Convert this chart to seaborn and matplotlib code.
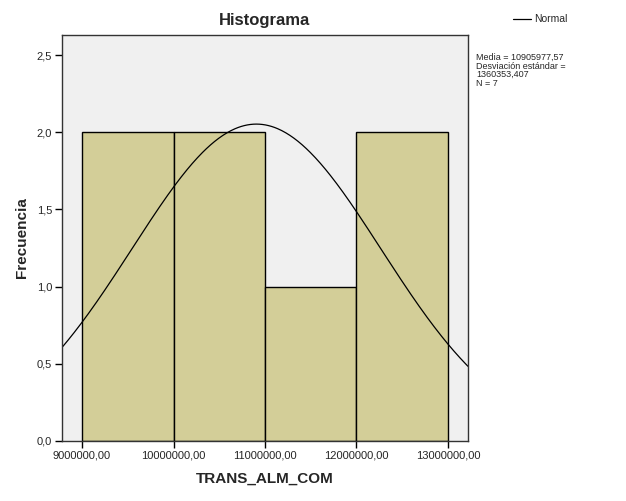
import numpy as np
import pandas as pd
import matplotlib
matplotlib.use("Agg")
import matplotlib.pyplot as plt
import seaborn as sns

bin_edges = [9000000, 10000000, 11000000, 12000000, 13000000]
bin_centers = [9500000, 10500000, 11500000, 12500000]
counts = [2, 2, 1, 2]
mean_val = 10905977.57
sd_val = 1360353.407
n_val = 7
xticks = [9000000, 10000000, 11000000, 12000000, 13000000]
xtick_labels = ["9000000,00", "10000000,00", "11000000,00", "12000000,00", "13000000,00"]
yticks = [0.0, 0.5, 1.0, 1.5, 2.0, 2.5]
ytick_labels = ["0,0", "0,5", "1,0", "1,5", "2,0", "2,5"]

sns.set_style("ticks")
plt.rcParams['font.family'] = ['Liberation Sans', 'DejaVu Sans']

W, H = 626, 501
fig = plt.figure(figsize=(W / 100, H / 100), dpi=100)
left, right, top, bottom = 62, 468, 35, 441
ax = fig.add_axes([left / W, 1 - bottom / H, (right - left) / W, (bottom - top) / H])
ax.set_facecolor("#F0F0F0")

df = pd.DataFrame({"x": bin_centers, "w": counts})
sns.histplot(data=df, x="x", weights="w", bins=bin_edges, ax=ax,
             color="#D3CE98", alpha=1, edgecolor="black", linewidth=1.0)

xmin, xmax = 8781000, 13219000
xs = np.linspace(xmin, xmax, 400)
binw = 1000000
ys = n_val * binw / (sd_val * np.sqrt(2 * np.pi)) * np.exp(-0.5 * ((xs - mean_val) / sd_val) ** 2)
sns.lineplot(x=xs, y=ys, ax=ax, color="black", linewidth=0.9, label="Normal", legend=False)

ax.set_xlim(xmin, xmax)
ax.set_ylim(0, 2.63)
ax.set_xticks(xticks)
ax.set_xticklabels(xtick_labels, fontsize=8)
ax.set_yticks(yticks)
ax.set_yticklabels(ytick_labels, fontsize=8)
ax.tick_params(direction="out", length=5, width=1, color="black", pad=2)
for s in ax.spines.values():
    s.set_visible(True)
    s.set_color("#333333")
    s.set_linewidth(1)

ax.set_xlabel("TRANS_ALM_COM", fontsize=11, fontweight="bold", labelpad=8)
ax.set_ylabel("Frecuencia", fontsize=11, fontweight="bold", labelpad=6)
fig.text((left + right) / 2 / W, 1 - 21 / H, "Histograma", ha="center", va="center",
         fontsize=12, fontweight="bold")

# legend
fig.add_artist(plt.Line2D([513 / W, 531 / W], [1 - 19 / H, 1 - 19 / H], color="black", linewidth=0.9))
fig.text(534 / W, 1 - 19 / H, "Normal", ha="left", va="center", fontsize=7.5)
fig.text(476 / W, 1 - 53 / H,
         "Media = 10905977,57\nDesviación estándar =\n1360353,407\nN = 7",
         ha="left", va="top", fontsize=6.5, linespacing=0.95)

fig.savefig("out.png", dpi=100)
